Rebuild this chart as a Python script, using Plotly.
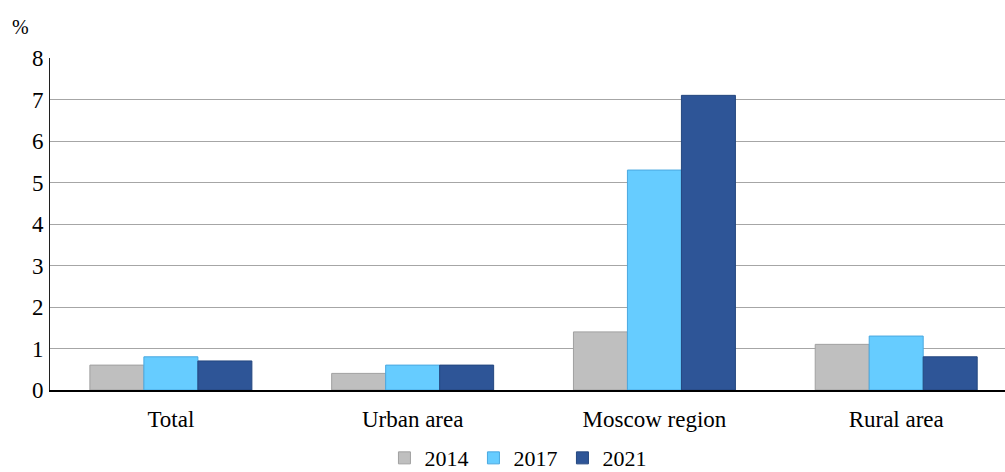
import plotly.graph_objects as go

categories = ["Total", "Urban area", "Moscow region", "Rural area"]
years = ["2014", "2017", "2021"]
v2014 = [0.6, 0.4, 1.4, 1.1]
v2017 = [0.8, 0.6, 5.3, 1.3]
v2021 = [0.7, 0.6, 7.1, 0.8]
yticks = [0, 1, 2, 3, 4, 5, 6, 7, 8]

fills = ["#BFBFBF", "#66CCFF", "#2E5597"]
lines = ["#A0A0A0", "#4AA8E0", "#24477F"]

fig = go.Figure()
for name, vals, fc, lc in zip(years, [v2014, v2017, v2021], fills, lines):
    fig.add_trace(go.Bar(x=categories, y=vals, name=name,
                         marker=dict(color=fc, line=dict(color=lc, width=1))))

fam = "Liberation Serif"
font = dict(family=fam, size=23, color="black")
fig.update_layout(
    width=1005, height=472,
    margin=dict(l=50, r=0, t=58, b=82, autoexpand=False),
    paper_bgcolor="white", plot_bgcolor="white",
    barmode="group", bargap=0.33, bargroupgap=0,
    font=font,
    showlegend=True,
    legend=dict(orientation="h", x=0.49, xanchor="center", y=-0.205, yanchor="middle",
                font=dict(family=fam, size=22, color="black"), itemwidth=30,
                traceorder="normal", bgcolor="rgba(0,0,0,0)"),
    xaxis=dict(range=[-0.5, 3.45], showline=True, linecolor="black", linewidth=1.5,
               ticks="", tickfont=font, showgrid=False, ticklabelstandoff=8),
    yaxis=dict(range=[0, 8], tickvals=yticks, showline=True, linecolor="#202020",
               linewidth=1, showgrid=True, gridcolor="#A6A6A6", gridwidth=1,
               ticks="", tickfont=font, zeroline=False, ticklabelstandoff=1),
    annotations=[dict(text="%", x=-0.0314, y=1.093, xref="paper", yref="paper",
                      showarrow=False, font=dict(family=fam, size=20, color="black"),
                      xanchor="center", yanchor="middle")],
)
fig.write_html("out.html")
